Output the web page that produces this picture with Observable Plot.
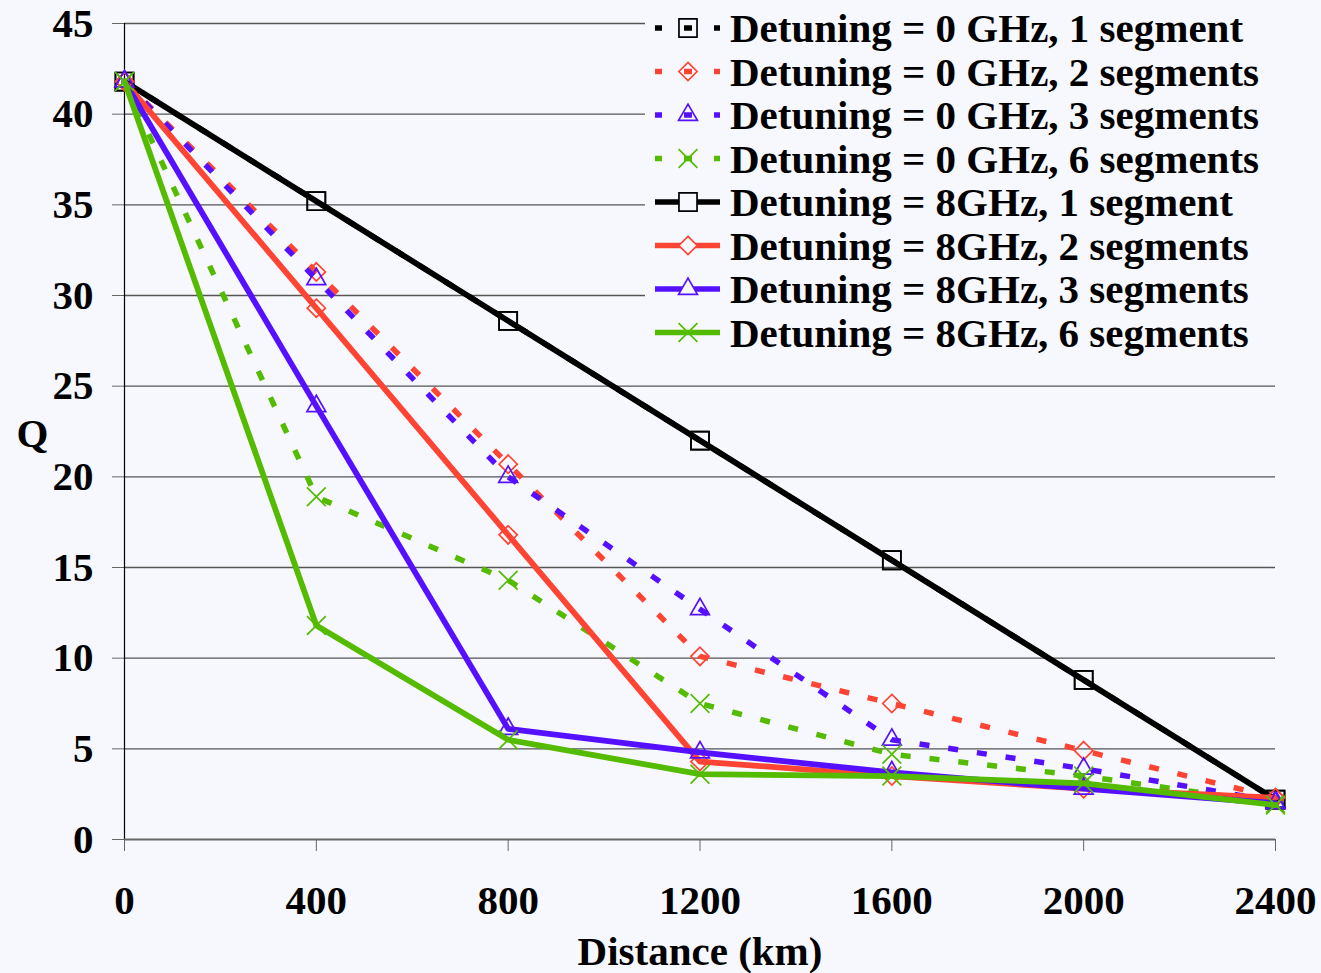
<!DOCTYPE html>
<html>
<head>
<meta charset="utf-8">
<script src="https://cdn.jsdelivr.net/npm/d3@7"></script>
<script src="https://cdn.jsdelivr.net/npm/@observablehq/plot@0.6"></script>
<style>
  html, body { margin: 0; padding: 0; background: #F7F8FE; }
  #chart { position: relative; width: 1321px; height: 973px; }
  #legend { position: absolute; left: 0; top: 0; pointer-events: none; }
</style>
</head>
<body>
<div id="chart"></div>
<script>
// Transmission distance (km) at which Q was evaluated
const distances = [0, 400, 800, 1200, 1600, 2000, 2400];

// Q factor per configuration
const q0g1seg = [41.8, 35.2, 28.6, 22.0, 15.4, 8.8, 2.2];
const q0g2seg = [41.8, 31.3, 20.7, 10.1, 7.5, 4.9, 2.3];
const q0g3seg = [41.8, 30.9, 20.0, 12.7, 5.5, 3.9, 2.1];
const q0g6seg = [41.8, 18.9, 14.3, 7.5, 4.7, 3.5, 2.0];
const q8g1seg = [41.8, 35.2, 28.6, 22.0, 15.4, 8.8, 2.2];
const q8g2seg = [41.8, 29.3, 16.8, 4.3, 3.5, 2.8, 2.3];
const q8g3seg = [41.8, 23.9, 6.1, 4.8, 3.7, 2.8, 2.0];
const q8g6seg = [41.8, 11.8, 5.5, 3.6, 3.5, 3.1, 1.9];

const seriesLabels = [
  "Detuning = 0 GHz, 1 segment",
  "Detuning = 0 GHz, 2 segments",
  "Detuning = 0 GHz, 3 segments",
  "Detuning = 0 GHz, 6 segments",
  "Detuning = 8GHz, 1 segment",
  "Detuning = 8GHz, 2 segments",
  "Detuning = 8GHz, 3 segments",
  "Detuning = 8GHz, 6 segments"
];
const seriesValues = [q0g1seg, q0g2seg, q0g3seg, q0g6seg, q8g1seg, q8g2seg, q8g3seg, q8g6seg];

const xTicks = [0, 400, 800, 1200, 1600, 2000, 2400];
const yTicks = [0, 5, 10, 15, 20, 25, 30, 35, 40, 45];

// Styling per series (segment count → colour / marker, detuning → dash)
const segColors = ["#000000", "#FF4433", "#5511FF", "#55BB00"];
const segSymbols = ["square2", "diamond2", "triangle2", "times"];
const segRadius = [11.5, 8.2, 9, 8.6];
const BG = "#F7F8FE";
const DASH = "10,19";

const series = seriesLabels.map((label, i) => ({
  label,
  color: segColors[i % 4],
  symbol: segSymbols[i % 4],
  r: segRadius[i % 4],
  dashed: i < 4,
  data: distances.map((d, j) => ({distance: d, q: seriesValues[i][j]}))
}));

const dataMarks = series.flatMap(s => [
  Plot.line(s.data, {
    x: "distance", y: "q", stroke: s.color,
    strokeWidth: s.dashed ? 5.5 : 5.8,
    strokeDasharray: s.dashed ? DASH : null,
    strokeLinecap: s.dashed ? "butt" : "round",
    strokeLinejoin: "round"
  }),
  Plot.dot(s.data, {
    x: "distance", y: "q", symbol: s.symbol, r: s.r,
    stroke: s.color, strokeWidth: 1.7, fill: "none"
  })
]);

const fmt = d => String(d);

const chart = Plot.plot({
  width: 1321,
  height: 973,
  marginLeft: 124,
  marginRight: 46,
  marginTop: 23,
  marginBottom: 134,
  style: {
    background: "transparent",
    fontFamily: "'Liberation Serif', 'Times New Roman', serif",
    fontSize: "41px",
    fontWeight: "bold",
    color: "#000"
  },
  x: {domain: [0, 2400]},
  y: {domain: [0, 45]},
  marks: [
    Plot.gridY(yTicks.filter(v => v > 0), {stroke: "#555", strokeOpacity: 1, strokeWidth: 1.3}),
    Plot.axisY(yTicks, {tickSize: 12, tickPadding: 19, stroke: "#666", tickFormat: fmt, label: null}),
    Plot.axisX(xTicks, {tickSize: 12, tickPadding: 33, stroke: "#666", tickFormat: fmt, label: null}),
    Plot.ruleX([0], {stroke: "#000", strokeWidth: 1.2}),
    Plot.ruleY([0], {stroke: "#666", strokeWidth: 2}),
    ...dataMarks,
    Plot.text(["Q"], {text: d => d, frameAnchor: "left", dx: -92, dy: 2, textAnchor: "middle"}),
    Plot.text(["Distance (km)"], {text: d => d, frameAnchor: "bottom", dy: 112, textAnchor: "middle", lineAnchor: "middle"})
  ]
});

const host = document.getElementById("chart");
host.appendChild(chart);

// Legend box overlaid in the upper-right corner of the plotting area
const legend = d3.select(host).append("svg")
  .attr("id", "legend")
  .attr("width", 1321)
  .attr("height", 973)
  .style("font-family", "'Liberation Serif', 'Times New Roman', serif")
  .style("font-weight", "bold")
  .style("font-size", "41px");

legend.append("rect")
  .attr("x", 645).attr("y", 4)
  .attr("width", 630).attr("height", 352)
  .attr("fill", BG);

const symbolTypes = {
  square2: d3.symbolSquare2,
  diamond2: d3.symbolDiamond2,
  triangle2: d3.symbolTriangle2,
  times: d3.symbolTimes
};

series.forEach((s, i) => {
  const cy = 28 + i * 43.5;
  const g = legend.append("g");
  g.append("line")
    .attr("x1", 655).attr("x2", 720)
    .attr("y1", cy).attr("y2", cy)
    .attr("stroke", s.color).attr("stroke-width", 5.5)
    .attr("stroke-linecap", "butt")
    .attr("stroke-dasharray", s.dashed ? "7,22,8,22,6" : null);
  g.append("path")
    .attr("transform", `translate(688,${cy})`)
    .attr("d", d3.symbol(symbolTypes[s.symbol], Math.PI * s.r * s.r)())
    .attr("fill", s.dashed ? "none" : BG)
    .attr("stroke", s.color).attr("stroke-width", 1.7);
  g.append("text")
    .attr("x", 730).attr("y", cy + 14)
    .attr("fill", "#000")
    .text(s.label);
});
</script>
</body>
</html>
